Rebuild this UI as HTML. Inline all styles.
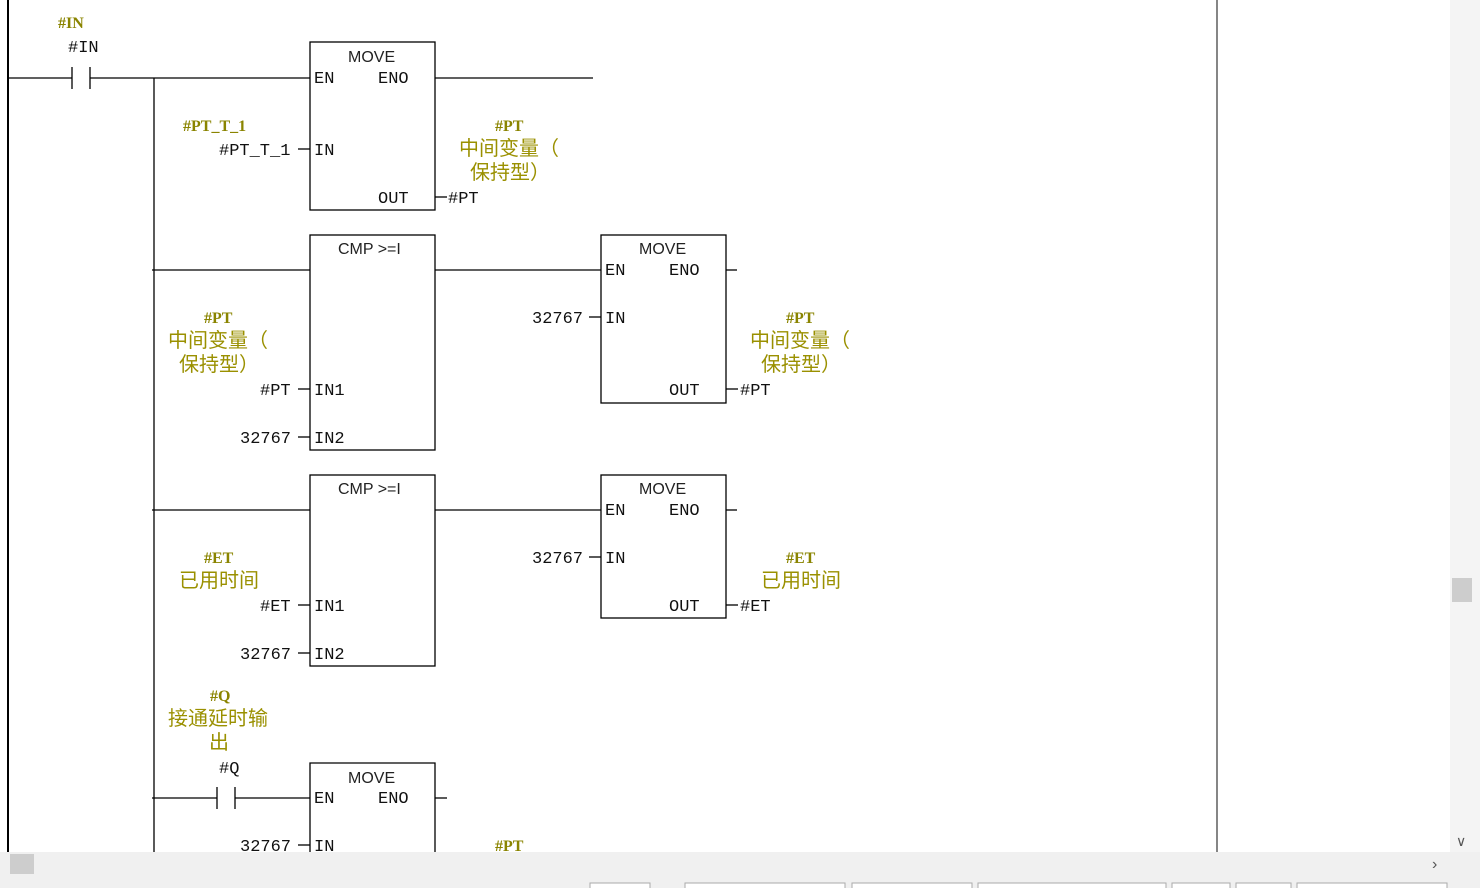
<!DOCTYPE html><html><head><style>body{margin:0;background:#fff}svg{display:block}
.p{font-family:"Liberation Mono",monospace;font-size:17px;fill:#111}
.t{font-family:"Liberation Sans",sans-serif;font-size:16px;fill:#222}
.o{font-family:"Liberation Serif",serif;font-size:16px;font-weight:bold;fill:#8a8400}
.c{font-family:"Liberation Sans","Noto Sans CJK SC",sans-serif;font-size:20px;fill:#9a9000}
</style></head><body>
<svg width="1480" height="888" viewBox="0 0 1480 888">
<g stroke="#000" stroke-width="1.3" fill="none">
<line x1="8" y1="0" x2="8" y2="852" stroke-width="2"/>
<line x1="154" y1="78" x2="154" y2="852"/>
<line x1="1217" y1="0" x2="1217" y2="852" stroke="#444"/>
<line x1="8" y1="78" x2="72" y2="78"/><line x1="72" y1="67" x2="72" y2="89"/><line x1="90" y1="67" x2="90" y2="89"/>
<line x1="90" y1="78" x2="310" y2="78"/>
<rect x="310" y="42" width="125" height="168"/>
<line x1="435" y1="78" x2="593" y2="78"/>
<line x1="298" y1="149" x2="310" y2="149"/><line x1="435" y1="197" x2="447" y2="197"/>
<line x1="152" y1="270" x2="310" y2="270"/>
<rect x="310" y="235" width="125" height="215"/>
<line x1="435" y1="270" x2="601" y2="270"/>
<rect x="601" y="235" width="125" height="168"/>
<line x1="726" y1="270" x2="737" y2="270"/>
<line x1="589" y1="317" x2="601" y2="317"/><line x1="726" y1="389" x2="738" y2="389"/>
<line x1="298" y1="389" x2="310" y2="389"/><line x1="298" y1="437" x2="310" y2="437"/>
<line x1="152" y1="510" x2="310" y2="510"/>
<rect x="310" y="475" width="125" height="191"/>
<line x1="435" y1="510" x2="601" y2="510"/>
<rect x="601" y="475" width="125" height="143"/>
<line x1="726" y1="510" x2="737" y2="510"/>
<line x1="589" y1="557" x2="601" y2="557"/><line x1="726" y1="605" x2="738" y2="605"/>
<line x1="298" y1="605" x2="310" y2="605"/><line x1="298" y1="653" x2="310" y2="653"/>
<line x1="152" y1="798" x2="217" y2="798"/><line x1="217" y1="787" x2="217" y2="809"/><line x1="235" y1="787" x2="235" y2="809"/>
<line x1="235" y1="798" x2="310" y2="798"/>
<polyline points="310,852 310,763 435,763 435,852"/>
<line x1="435" y1="798" x2="447" y2="798"/>
<line x1="298" y1="845" x2="310" y2="845"/>
</g>
<text class="o" x="58" y="28">#IN</text><text class="p" x="68" y="52">#IN</text>
<text class="t" x="348" y="62">MOVE</text><text class="p" x="314" y="83">EN</text><text class="p" x="378" y="83">ENO</text>
<text class="o" x="183" y="131">#PT_T_1</text><text class="p" x="219" y="155">#PT_T_1</text><text class="p" x="314" y="155">IN</text>
<text class="p" x="378" y="203">OUT</text><text class="p" x="448" y="203">#PT</text>
<text class="o" x="495" y="131">#PT</text><text class="c" x="459" y="155">中间变量（</text><text class="c" x="470" y="179">保持型）</text>
<text class="t" x="338" y="254">CMP &gt;=I</text>
<text class="t" x="639" y="254">MOVE</text><text class="p" x="605" y="275">EN</text><text class="p" x="669" y="275">ENO</text>
<text class="p" x="532" y="323">32767</text><text class="p" x="605" y="323">IN</text>
<text class="p" x="669" y="395">OUT</text><text class="p" x="740" y="395">#PT</text>
<text class="o" x="786" y="323">#PT</text><text class="c" x="750" y="347">中间变量（</text><text class="c" x="761" y="371">保持型）</text>
<text class="o" x="204" y="323">#PT</text><text class="c" x="168" y="347">中间变量（</text><text class="c" x="179" y="371">保持型）</text>
<text class="p" x="260" y="395">#PT</text><text class="p" x="314" y="395">IN1</text>
<text class="p" x="240" y="443">32767</text><text class="p" x="314" y="443">IN2</text>
<text class="t" x="338" y="494">CMP &gt;=I</text>
<text class="t" x="639" y="494">MOVE</text><text class="p" x="605" y="515">EN</text><text class="p" x="669" y="515">ENO</text>
<text class="p" x="532" y="563">32767</text><text class="p" x="605" y="563">IN</text>
<text class="p" x="669" y="611">OUT</text><text class="p" x="740" y="611">#ET</text>
<text class="o" x="786" y="563">#ET</text><text class="c" x="761" y="587">已用时间</text>
<text class="o" x="204" y="563">#ET</text><text class="c" x="179" y="587">已用时间</text>
<text class="p" x="260" y="611">#ET</text><text class="p" x="314" y="611">IN1</text>
<text class="p" x="240" y="659">32767</text><text class="p" x="314" y="659">IN2</text>
<text class="o" x="210" y="701">#Q</text><text class="c" x="168" y="725">接通延时输</text><text class="c" x="209" y="749">出</text>
<text class="p" x="219" y="773">#Q</text>
<text class="t" x="348" y="783">MOVE</text><text class="p" x="314" y="803">EN</text><text class="p" x="378" y="803">ENO</text>
<text class="p" x="240" y="851">32767</text><text class="p" x="314" y="851">IN</text>
<text class="o" x="495" y="851">#PT</text>
<rect x="1450" y="0" width="30" height="852" fill="#f4f4f4"/>
<rect x="1452" y="578" width="20" height="24" fill="#cdcdcd"/>
<text x="1456" y="846" font-size="14" fill="#555" font-family="Liberation Sans">∨</text>
<rect x="0" y="852" width="1480" height="24" fill="#f0f0f0"/>
<rect x="10" y="854" width="24" height="20" fill="#cdcdcd"/>
<text x="1432" y="869" font-size="16" fill="#555" font-family="Liberation Sans">›</text>
<rect x="0" y="876" width="1480" height="12" fill="#f0f0f0"/>
<g fill="#fff" stroke="#aaa"><rect x="590" y="883" width="60" height="8"/><rect x="685" y="883" width="160" height="8"/><rect x="852" y="883" width="120" height="8"/><rect x="978" y="883" width="188" height="8"/><rect x="1172" y="883" width="58" height="8"/><rect x="1236" y="883" width="55" height="8"/><rect x="1297" y="883" width="150" height="8"/></g>
</svg></body></html>
